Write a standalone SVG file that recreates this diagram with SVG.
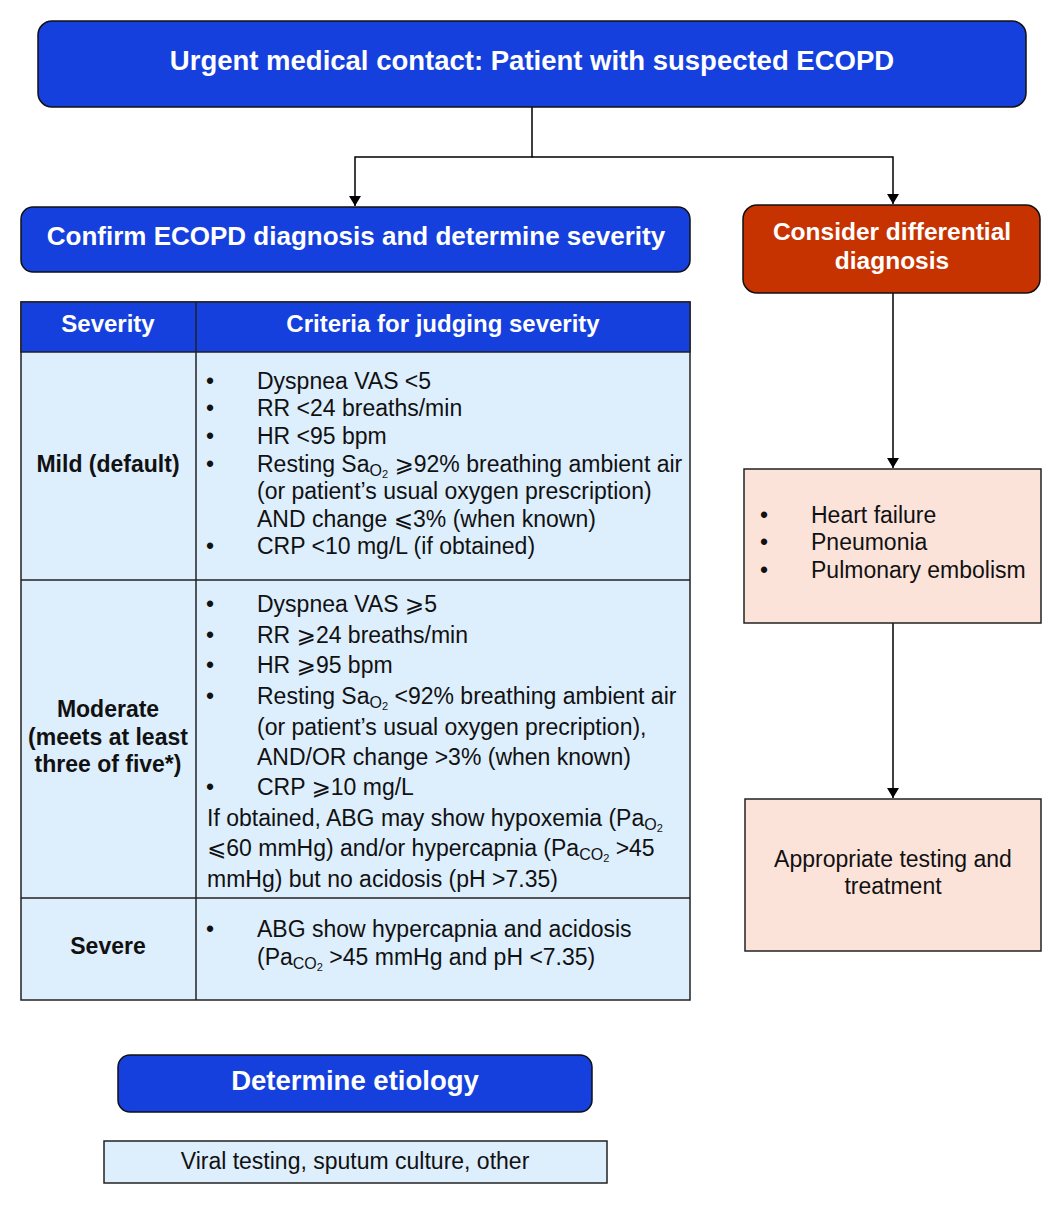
<svg xmlns="http://www.w3.org/2000/svg" width="1062" height="1205" viewBox="0 0 1062 1205">
<defs>
<marker id="arr" viewBox="0 0 10 12" refX="10" refY="6" markerWidth="14" markerHeight="12" markerUnits="userSpaceOnUse" orient="auto">
<path d="M0,0 L10,6 L0,12 z" fill="#000"/>
</marker>
</defs>
<style>
.blue{fill:#1540DE;stroke:#111;stroke-width:1.5}
.red{fill:#C73300;stroke:#111;stroke-width:1.5}
.pink{fill:#FCE3DA;stroke:#222;stroke-width:1.5}
.lb{fill:#DDEEFD;stroke:#222;stroke-width:1.5}
.hd{font-family:"Liberation Sans",Arial,sans-serif;font-weight:bold;fill:#fff;text-anchor:middle}
.bd{font-family:"Liberation Sans",Arial,"DejaVu Sans",sans-serif;font-size:23px;fill:#111}
.bb{font-family:"Liberation Sans",Arial,sans-serif;font-size:23px;font-weight:bold;fill:#111;text-anchor:middle}
.ln{stroke:#000;stroke-width:1.5;fill:none}
.tl{stroke:#222;stroke-width:1.5}
</style>
<g id="connectors">
<path class="ln" d="M532,107 V157 H355 V206" marker-end="url(#arr)"/>
<path class="ln" d="M532,157 H893 V204" marker-end="url(#arr)"/>
<path class="ln" d="M893,293 V468" marker-end="url(#arr)"/>
<path class="ln" d="M893,623 V798" marker-end="url(#arr)"/>
</g>
<g id="n-urgent">
<rect class="blue" x="38" y="21" width="988" height="86" rx="14"/>
<text class="hd" x="532" y="70" font-size="27.5">Urgent medical contact: Patient with suspected ECOPD</text>
</g>
<g id="n-confirm">
<rect class="blue" x="21" y="207" width="669" height="65" rx="12"/>
<text class="hd" x="356" y="245" font-size="26">Confirm ECOPD diagnosis and determine severity</text>
</g>
<g id="n-diff">
<rect class="red" x="743" y="205" width="297" height="88" rx="14"/>
<text class="hd" x="892" y="240" font-size="24.5">Consider differential</text>
<text class="hd" x="892" y="269" font-size="24.5">diagnosis</text>
</g>
<g id="n-table">
<rect class="lb" x="21" y="302" width="669" height="698"/>
<rect fill="#1540DE" stroke="#222" stroke-width="1.5" x="21" y="302" width="669" height="50"/>
<line class="tl" x1="196" y1="302" x2="196" y2="1000"/>
<line class="tl" x1="21" y1="580" x2="690" y2="580"/>
<line class="tl" x1="21" y1="898" x2="690" y2="898"/>
<text class="hd" x="108" y="332" font-size="24">Severity</text>
<text class="hd" x="443" y="332" font-size="24">Criteria for judging severity</text>
<text class="bb" x="108" y="472">Mild (default)</text>
<g class="bd">
<text x="206" y="389">•</text><text x="257" y="389">Dyspnea VAS &lt;5</text>
<text x="206" y="416">•</text><text x="257" y="416">RR &lt;24 breaths/min</text>
<text x="206" y="444">•</text><text x="257" y="444">HR &lt;95 bpm</text>
<text x="206" y="472">•</text><text x="257" y="472">Resting Sa<tspan font-size="16" dy="4">O</tspan><tspan font-size="11" dy="2">2</tspan><tspan dy="-6"> ⩾92% breathing ambient air</tspan></text>
<text x="257" y="499">(or patient’s usual oxygen prescription)</text>
<text x="257" y="527">AND change ⩽3% (when known)</text>
<text x="206" y="554">•</text><text x="257" y="554">CRP &lt;10 mg/L (if obtained)</text>
</g>
<text class="bb" x="108" y="717">Moderate</text>
<text class="bb" x="108" y="745">(meets at least</text>
<text class="bb" x="108" y="772">three of five*)</text>
<g class="bd">
<text x="206" y="612">•</text><text x="257" y="612">Dyspnea VAS ⩾5</text>
<text x="206" y="643">•</text><text x="257" y="643">RR ⩾24 breaths/min</text>
<text x="206" y="673">•</text><text x="257" y="673">HR ⩾95 bpm</text>
<text x="206" y="704">•</text><text x="257" y="704">Resting Sa<tspan font-size="16" dy="4">O</tspan><tspan font-size="11" dy="2">2</tspan><tspan dy="-6"> &lt;92% breathing ambient air</tspan></text>
<text x="257" y="735">(or patient’s usual oxygen precription),</text>
<text x="257" y="765">AND/OR change &gt;3% (when known)</text>
<text x="206" y="795">•</text><text x="257" y="795">CRP ⩾10 mg/L</text>
<text x="207" y="826">If obtained, ABG may show hypoxemia (Pa<tspan font-size="16" dy="4">O</tspan><tspan font-size="11" dy="2">2</tspan></text>
<text x="207" y="856">⩽60 mmHg) and/or hypercapnia (Pa<tspan font-size="16" dy="4">CO</tspan><tspan font-size="11" dy="2">2</tspan><tspan dy="-6"> &gt;45</tspan></text>
<text x="207" y="887">mmHg) but no acidosis (pH &gt;7.35)</text>
</g>
<text class="bb" x="108" y="954">Severe</text>
<g class="bd">
<text x="206" y="937">•</text><text x="257" y="937">ABG show hypercapnia and acidosis</text>
<text x="257" y="965">(Pa<tspan font-size="16" dy="4">CO</tspan><tspan font-size="11" dy="2">2</tspan><tspan dy="-6"> &gt;45 mmHg and pH &lt;7.35)</tspan></text>
</g>
</g>
<g id="n-alts">
<rect class="pink" x="744" y="469" width="297" height="154"/>
<g class="bd">
<text x="760" y="523">•</text><text x="811" y="523">Heart failure</text>
<text x="760" y="550">•</text><text x="811" y="550">Pneumonia</text>
<text x="760" y="578">•</text><text x="811" y="578">Pulmonary embolism</text>
</g>
</g>
<g id="n-testing">
<rect class="pink" x="745" y="799" width="296" height="152"/>
<text class="bd" x="893" y="867" text-anchor="middle">Appropriate testing and</text>
<text class="bd" x="893" y="894" text-anchor="middle">treatment</text>
</g>
<g id="n-etiology">
<rect class="blue" x="118" y="1055" width="474" height="57" rx="12"/>
<text class="hd" x="355" y="1090" font-size="27.5">Determine etiology</text>
</g>
<g id="n-viral">
<rect class="lb" x="104" y="1141" width="503" height="42"/>
<text class="bd" x="355" y="1169" text-anchor="middle">Viral testing, sputum culture, other</text>
</g>
</svg>
